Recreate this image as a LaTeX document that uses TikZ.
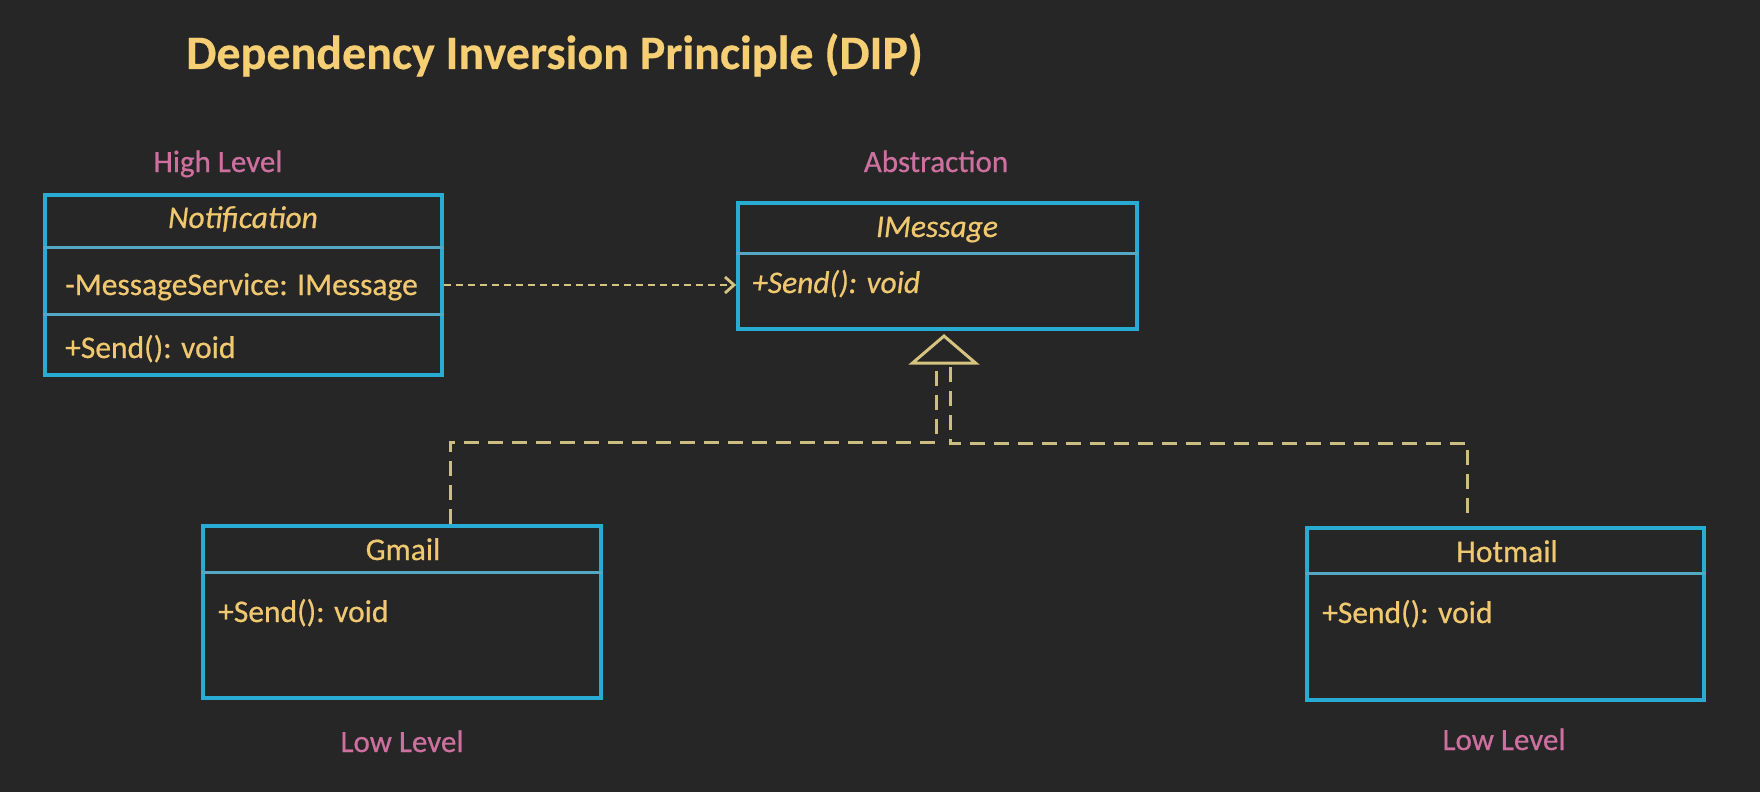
\documentclass[tikz,border=0pt]{standalone}
\usepackage{fontspec}
\setmainfont{Carlito}[FakeBold=0.6]
\newfontfamily\bodyfont{Carlito}[FakeBold=0.6]
\newfontfamily\titlefont{Carlito Bold}[FakeBold=0.4]
\usetikzlibrary{arrows.meta,calc}
\definecolor{bg}{RGB}{38,38,38}
\definecolor{boxc}{RGB}{40,172,212}
\definecolor{sepc}{RGB}{85,168,196}
\definecolor{txt}{RGB}{240,200,112}
\definecolor{ttl}{RGB}{246,206,116}
\definecolor{pinkc}{RGB}{205,112,160}
\definecolor{linec}{RGB}{212,196,128}
\tikzset{
  umlbox/.style={draw=boxc, line width=3.8pt, inner sep=0pt},
  sepline/.style={draw=sepc, line width=3pt},
  body/.style={text=txt, font=\bodyfont\fontsize{31.5}{36}\selectfont, inner sep=0pt, anchor=base west},
  cname/.style={text=txt, font=\bodyfont\fontsize{31.5}{36}\selectfont, inner sep=0pt, anchor=base},
  level/.style={text=pinkc, font=\bodyfont\fontsize{31}{36}\selectfont, inner sep=0pt, anchor=base},
  depend/.style={draw=linec, line width=2.8pt, dash pattern=on 7pt off 5pt, -{Straight Barb[length=9pt,width=16pt,line width=2.8pt]}},
  gen/.style={draw=linec!90!gray, line width=3pt, dash pattern=on 15pt off 9pt},
  tri/.style={draw=linec, line width=3pt, line join=miter}
}
\begin{document}
\begin{tikzpicture}[x=1pt,y=-1pt]
\fill[bg] (0,0) rectangle (1760,792);
\useasboundingbox (0,0) rectangle (1760,792);

% title
\node[text=ttl, font=\titlefont\fontsize{48}{54}\selectfont, inner sep=0pt, anchor=base west] (title) at (186,69) {Dependency Inversion Principle (DIP)};

% level labels
\node[level] (hl) at (218,172) {High Level};
\node[level] (ab) at (936,172) {Abstraction};
\node[level] (ll1) at (402,752) {Low Level};
\node[level] (ll2) at (1504,750) {Low Level};

% Notification
\node[umlbox, minimum width=397pt, minimum height=180pt] (notif) at (243.5,285) {};
\draw[sepline] (notif.west |- 0,247) -- (notif.east |- 0,247);
\draw[sepline] (notif.west |- 0,314) -- (notif.east |- 0,314);
\node[cname] (notifname) at (243,228) {\itshape Notification};
\node[body] (notifattr) at (65,295) {-MessageService: IMessage};
\node[body] (notifop) at (65,358) {+Send(): void};

% IMessage
\node[umlbox, minimum width=399pt, minimum height=126pt] (imsg) at (937.5,266) {};
\draw[sepline] (imsg.west |- 0,253) -- (imsg.east |- 0,253);
\node[cname] (imsgname) at (937,237) {\itshape IMessage};
\node[body] (imsgop) at (752,293) {\itshape +Send(): void};

% Gmail
\node[umlbox, minimum width=398pt, minimum height=172pt] (gmail) at (402,612) {};
\draw[sepline] (gmail.west |- 0,572) -- (gmail.east |- 0,572);
\node[cname] (gmailname) at (403,560) {Gmail};
\node[body] (gmailop) at (218,622) {+Send(): void};

% Hotmail
\node[umlbox, minimum width=397pt, minimum height=172pt] (hotmail) at (1505.5,614) {};
\draw[sepline] (hotmail.west |- 0,573) -- (hotmail.east |- 0,573);
\node[cname] (hotmailname) at (1507,562) {Hotmail};
\node[body] (hotmailop) at (1322,623) {+Send(): void};

% dependency arrow
\draw[depend] (notif.east |- 0,285) -- (imsg.west |- 0,285);

% realization triangle
\coordinate (apex) at (944,336);
\coordinate (trib1) at (936,363);
\coordinate (trib2) at (950,363);
\coordinate (elbowL) at (0,442);
\coordinate (elbowR) at (0,443);
\draw[tri] (apex) -- (912.5,363) -- (975.5,363) -- cycle;

% realization connectors
\draw[gen] ([xshift=48pt]gmail.north) -- ([xshift=48pt]gmail.north |- elbowL) -| (trib1);
\draw[gen, shorten <=13pt] ([xshift=-38.5pt]hotmail.north) -- ([xshift=-38.5pt]hotmail.north |- elbowR) -| (trib2);
\end{tikzpicture}
\end{document}
